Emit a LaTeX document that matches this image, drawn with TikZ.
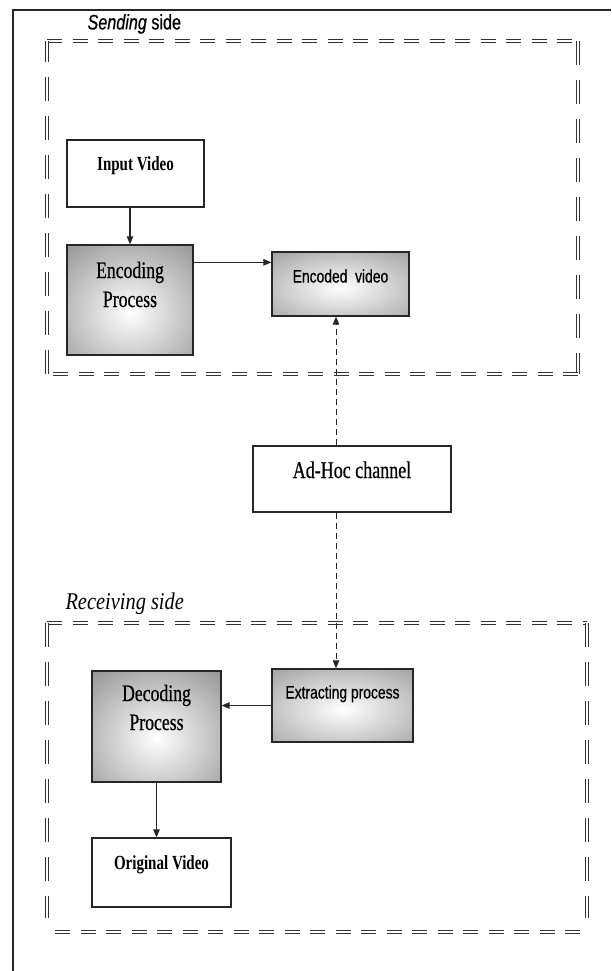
\documentclass[tikz,border=0pt]{standalone}
\usepackage{fontspec}
\usetikzlibrary{arrows.meta,positioning}
\newfontfamily\boxserif[FakeStretch=0.75, FakeBold=0.6]{Liberation Serif}
\newfontfamily\boxseriftitle[FakeStretch=0.75]{Liberation Serif}
\newfontfamily\boxsans[FakeStretch=0.77, FakeBold=0.5]{Liberation Sans}
\newfontfamily\recvserif[FakeStretch=0.85]{Liberation Serif}
\tikzset{
  frameh/.style={draw=black!80, line width=0.9pt, double=white,
    double distance=1.4pt, dash pattern=on 15pt off 10.5pt},
  framev/.style={frameh, dash pattern=on 24pt off 15pt},
  plainbox/.style={draw=black!85, line width=1.3pt, fill=white, inner sep=0pt},
  shadebox/.style n args={3}{plainbox, fill=black!42,
    path picture={\shade[inner color=white, outer color=black!42]
      ([yshift=#1]path picture bounding box.center) ellipse (#2 and #3);}},
  arr/.style={draw=black!85, line width=1.1pt, -{Triangle[length=8pt,width=6.5pt]}},
  darr/.style={arr, line width=0.9pt, dash pattern=on 6pt off 4pt}
}
\newcommand{\twolines}[2]{\begin{tabular}[t]{@{}c@{}}#1\\#2\end{tabular}}
\begin{document}
\begin{tikzpicture}[x=1pt, y=-1pt]
\useasboundingbox (0,0) rectangle (611,971);
% outer border
\draw[line width=1.2pt, black!85] (13,971) -- (13,10) -- (611,10);

% sending side
\node[anchor=west, font=\boxsans\fontsize{21}{25}\selectfont] (sendlbl) at (84,24) {\textit{Sending} side};
\draw[frameh] (47,41) -- (578,41);
\draw[framev] (578,41) -- (578,374);
\draw[frameh] (578,374) -- (47,374);
\draw[framev] (47,374) -- (47,41);

\node[plainbox, minimum width=137pt, text height=30pt, text depth=37pt,
  font=\boxseriftitle\bfseries\fontsize{20}{24}\selectfont] (inp) at (135.5,173.5) {Input Video};
\node[shadebox={-12pt}{100pt}{90pt}, minimum width=126pt, text height=33pt, text depth=77pt,
  font=\boxserif\fontsize{23.6}{29}\selectfont] (enc) at (130,300) {\twolines{Encoding}{Process}};
\node[shadebox={-4pt}{120pt}{55pt}, minimum width=137pt, text height=30.5pt, text depth=33.5pt,
  font=\boxsans\fontsize{18}{22}\selectfont] (encd) at (340.5,284) {Encoded\ \ video};

\draw[arr] (enc.north |- inp.south) -- (enc.north);
\draw[arr] ([yshift=-18pt]enc.north east) -- ([yshift=-18pt]enc.north east -| encd.west);

% channel
\coordinate (lnk) at (336,0);
\node[plainbox, minimum width=198pt, text height=32pt, text depth=34pt,
  font=\boxserif\fontsize{24}{28}\selectfont] (adhoc) at (352,479) {Ad-Hoc channel};
\draw[darr] (adhoc.north -| lnk) -- (encd.south -| lnk);

% receiving side
\node[anchor=west, font=\recvserif\itshape\fontsize{24}{28}\selectfont] (recvlbl) at (62,604) {Receiving side};
\draw[frameh] (47,623) -- (587,623);
\draw[framev] (587,623) -- (587,918);
\draw[framev] (47,623) -- (47,918);
\draw[frameh] (55,932) -- (590,932);

\node[shadebox={-4pt}{125pt}{62pt}, minimum width=141pt, text height=29.5pt, text depth=43.5pt,
  font=\boxsans\fontsize{18}{22}\selectfont] (extr) at (342.5,705.5) {Extracting process};
\node[shadebox={-12pt}{100pt}{90pt}, minimum width=129pt, text height=30pt, text depth=81pt,
  font=\boxserif\fontsize{23.6}{29}\selectfont] (dec) at (156.5,726.5) {\twolines{Decoding}{Process}};
\node[plainbox, minimum width=139pt, text height=31pt, text depth=38pt,
  font=\boxseriftitle\bfseries\fontsize{20}{24}\selectfont] (orig) at (161.5,872.5) {Original Video};

\draw[darr] (adhoc.south -| lnk) -- (extr.north -| lnk);
\draw[arr] (extr.west) -- (extr.west -| dec.east);
\draw[arr] (dec.south) -- (dec.south |- orig.north);
\end{tikzpicture}
\end{document}
